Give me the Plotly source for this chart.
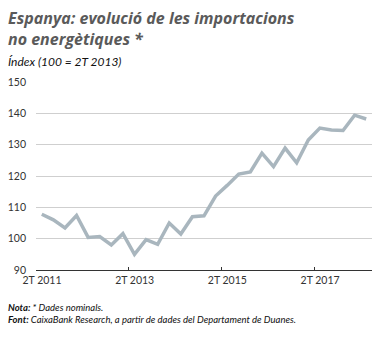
import plotly.graph_objects as go

quarters = [f"{q}T {y}" for y in range(2011, 2019) for q in (1, 2, 3, 4)][1:30]
values = [107.8, 106.0, 103.4, 107.4, 100.4, 100.7, 98.0, 101.6, 95.0, 99.7,
          98.2, 105.0, 101.5, 107.0, 107.3, 113.6, 117.0, 120.6, 121.3, 127.3,
          123.0, 128.9, 124.2, 131.5, 135.3, 134.7, 134.5, 139.4, 138.2]
tick_labels = ["2T 2011", "2T 2013", "2T 2015", "2T 2017"]

xs = list(range(len(values)))
tick_pos = [quarters.index(t) - 0.5 for t in tick_labels]

fig = go.Figure()
fig.add_trace(go.Scatter(x=xs, y=values, mode="lines",
                         line=dict(color="#a9b6be", width=3.5),
                         hoverinfo="skip", showlegend=False))

fig.update_layout(
    width=381, height=338,
    margin=dict(l=36, r=9, t=82, b=68),
    paper_bgcolor="white", plot_bgcolor="white",
    font=dict(family="Lato, sans-serif", color="#333"),
    xaxis=dict(range=[-0.5, len(values) - 0.5], tickmode="array",
               tickvals=tick_pos, ticktext=tick_labels, ticklabelshift=6,
               ticks="inside", ticklen=3, tickcolor="#333", tickwidth=1,
               showgrid=False, zeroline=False, showline=True,
               linecolor="#333", linewidth=1,
               tickfont=dict(size=10.5, color="#333")),
    yaxis=dict(range=[90, 150], tickmode="array",
               tickvals=[90, 100, 110, 120, 130, 140, 150],
               showgrid=True, gridcolor="#cfcfcf", gridwidth=1,
               zeroline=False, showline=False, ticks="",
               ticklabelstandoff=9,
               tickfont=dict(size=10.5, color="#333")),
)

fig.add_annotation(text="<b><i>Espanya: evolució de les importacions<br>no energètiques *</i></b>",
                   xref="paper", yref="paper", x=0, xanchor="left", align="left",
                   y=1, yanchor="middle", yshift=82 - 28.5, showarrow=False,
                   font=dict(size=16, color="#5a5a5a", family="Open Sans, sans-serif"),
                   xshift=-30)
fig.add_annotation(text="<i>Índex (100 = 2T 2013)</i>",
                   xref="paper", yref="paper", x=0, xanchor="left",
                   y=1, yanchor="middle", yshift=82 - 61, showarrow=False,
                   font=dict(size=12, color="#111"), xshift=-30)
fig.add_annotation(text="<b><i>Nota:</i></b><i> * Dades nominals.</i><br>"
                        "<b><i>Font:</i></b><i> CaixaBank Research, a partir de dades del Departament de Duanes.</i>",
                   xref="paper", yref="paper", x=0, xanchor="left", align="left",
                   y=0, yanchor="middle", yshift=-(313.5 - 270), showarrow=False,
                   font=dict(size=9.5, color="#111"), xshift=-30)

fig.write_html("out.html")
